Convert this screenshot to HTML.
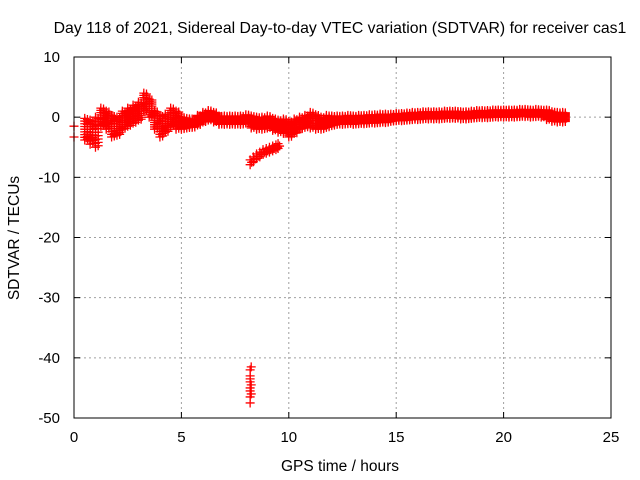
<!DOCTYPE html>
<html><head><meta charset="utf-8"><style>
body{margin:0;background:#fff}
svg{display:block;font-family:"Liberation Sans",sans-serif}
</style></head><body>
<svg id="chart" width="640" height="480" xmlns="http://www.w3.org/2000/svg">
<text x="340" y="33" font-size="15.8" text-anchor="middle">Day 118 of 2021, Sidereal Day-to-day VTEC variation (SDTVAR) for receiver cas1</text>
<text x="340" y="471" font-size="15.5" text-anchor="middle">GPS time / hours</text>
<text transform="translate(19,238) rotate(-90)" font-size="15.5" text-anchor="middle">SDTVAR / TECUs</text>
<g id="grid"></g><g id="ticks"></g><g id="marks"></g>
<rect x="74" y="57" width="537" height="361" fill="none" stroke="#000" stroke-width="1"/>
</svg>
<script>
const xTicks=[0,5,10,15,20,25];
const yTicks=[10,0,-10,-20,-30,-40,-50];
const mainTimes=[0.5,0.75,1,1.25,1.5,1.75,2,2.25,2.5,2.75,3,3.25,3.5,3.75,4,4.25,4.5,4.75,5,5.25,5.5,5.75,6,6.25,6.5,6.75,7,7.25,7.5,7.75,8,8.25,8.5,8.75,9,9.25,9.5,9.75,10,10.25,10.5,10.75,11,11.25,11.5,11.75,12,12.25,12.5,12.75,13,13.25,13.5,13.75,14,14.25,14.5,14.75,15,15.25,15.5,15.75,16,16.25,16.5,16.75,17,17.25,17.5,17.75,18,18.25,18.5,18.75,19,19.25,19.5,19.75,20,20.25,20.5,20.75,21,21.25,21.5,21.75,22,22.25,22.5,22.75];
const mainValues=[-2,-2.5,-2.5,0,-0.5,-1.5,-1.5,-0.5,0,0.5,1,2.5,1.5,-0.5,-1.5,-1,0,-0.5,-1,-1,-1,-0.5,0,0.3,0,-0.5,-0.5,-0.5,-0.5,-0.5,-0.3,-0.8,-1,-1,-0.8,-1.2,-1.5,-1.5,-2,-1.5,-1,-0.7,-0.5,-0.8,-1,-0.7,-0.6,-0.5,-0.5,-0.4,-0.5,-0.4,-0.4,-0.3,-0.3,-0.2,-0.2,-0.1,0,0,0.1,0.2,0.2,0.3,0.3,0.3,0.3,0.4,0.4,0.4,0.3,0.3,0.4,0.5,0.5,0.5,0.6,0.6,0.6,0.6,0.6,0.7,0.7,0.6,0.7,0.6,0.4,0.1,0,0];
const mainSpread=[1.8,2,2.5,1.5,1.5,1.8,1.5,1.5,1.5,1.5,1.5,1.5,1.5,1.5,1.8,1.5,1.5,1.5,1,0.8,0.7,0.8,0.8,0.8,0.8,0.7,0.7,0.7,0.7,0.7,0.7,1,1,1,1,1,1,1.2,1.3,1.2,1,1,1.3,1.2,1,1,0.8,0.7,0.7,0.7,0.7,0.7,0.7,0.7,0.7,0.7,0.7,0.6,0.6,0.6,0.6,0.6,0.6,0.6,0.6,0.6,0.6,0.6,0.6,0.6,0.6,0.6,0.6,0.6,0.6,0.6,0.6,0.6,0.6,0.6,0.6,0.6,0.6,0.6,0.6,0.6,0.8,0.8,0.8,0.8];
const armTimes=[8.2,8.35,8.5,8.65,8.8,8.95,9.1,9.25,9.4,9.5];
const armValues=[-7.5,-7,-6.5,-6.2,-5.8,-5.6,-5.4,-5.2,-5,-4.8];
const dropTimes=[8.2,8.2,8.2,8.2,8.2,8.2,8.2,8.2,8.25,8.25,8.25];
const dropValues=[-47.5,-46.5,-45.5,-45,-44,-43.5,-43,-42,-41.5,-44.5,-46];
const edgeTimes=[0,0];
const edgeValues=[-1.5,-3.3];

const NS="http://www.w3.org/2000/svg";
const X=t=>74+t*537/25;
const Y=v=>57+(10-v)*361/60;
function el(tag,attrs,parent){const e=document.createElementNS(NS,tag);for(const k in attrs)e.setAttribute(k,attrs[k]);parent.appendChild(e);return e;}
const grid=document.getElementById('grid'),ticks=document.getElementById('ticks'),marks=document.getElementById('marks');
xTicks.forEach(t=>{
  if(t>0&&t<25){const g=el('line',{x1:X(t),x2:X(t),y1:57,y2:418,stroke:'#a0a0a0','stroke-dasharray':'2,3'},grid);
  
  }
  el('line',{x1:X(t),x2:X(t),y1:418,y2:412,stroke:'#000'},ticks);
  el('line',{x1:X(t),x2:X(t),y1:57,y2:63,stroke:'#000'},ticks);
  const tx=el('text',{x:X(t),y:442,'font-size':15,'text-anchor':'middle'},ticks);tx.textContent=t;
  
  
});
yTicks.forEach(v=>{
  if(v<10&&v>-50){const g=el('line',{x1:74,x2:611,y1:Y(v),y2:Y(v),stroke:'#a0a0a0','stroke-dasharray':'2,3'},grid);
  
  }
  el('line',{x1:74,x2:80,y1:Y(v),y2:Y(v),stroke:'#000'},ticks);
  el('line',{x1:611,x2:605,y1:Y(v),y2:Y(v),stroke:'#000'},ticks);
  const tx=el('text',{x:60,y:Y(v)+5,'font-size':15,'text-anchor':'end'},ticks);tx.textContent=v;
  
  
});
function plus(t,v){
  const x=X(t),y=Y(v);
  const p=el('path',{d:`M${x-4.5},${y}H${x+4.5}M${x},${y-4.5}V${y+4.5}`,stroke:'#ff0000','stroke-width':1.3,fill:'none'},marks);
  
  
}
mainTimes.forEach((t,i)=>{
  const v=mainValues[i],s=mainSpread[i];
  for(let k=-1;k<=1;k+=0.25){plus(t,v+k*s);plus(t+0.125,v+k*s*0.9);}
});
armTimes.forEach((t,i)=>{plus(t,armValues[i]-0.4);plus(t,armValues[i]+0.4);plus(t+0.07,armValues[i]);});
dropTimes.forEach((t,i)=>plus(t,dropValues[i]));
edgeTimes.forEach((t,i)=>plus(t,edgeValues[i]));
</script>
</body></html>
